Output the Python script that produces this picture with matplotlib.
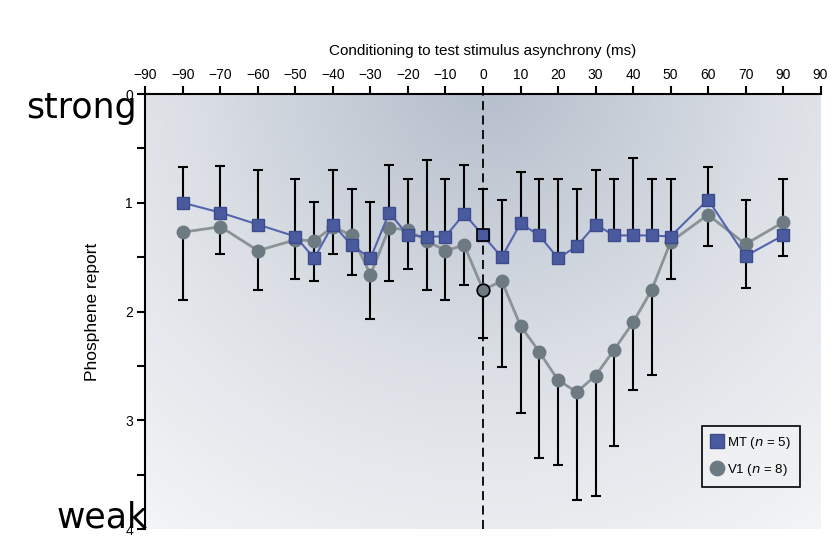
import numpy as np
import matplotlib.pyplot as plt
from matplotlib.colors import LinearSegmentedColormap

narrow = ['Liberation Sans', 'DejaVu Sans']

# asynchrony (ms)
delays = [-80, -70, -60, -50, -45, -40, -35, -30, -25, -20, -15, -10, -5, 0,
          5, 10, 15, 20, 25, 30, 35, 40, 45, 50, 60, 70, 80]

mt_mean = [1.00, 1.09, 1.20, 1.31, 1.51, 1.20, 1.39, 1.51, 1.09, 1.30, 1.31, 1.31, 1.10, 1.30,
           1.50, 1.19, 1.30, 1.51, 1.40, 1.20, 1.30, 1.30, 1.30, 1.31, 0.97, 1.49, 1.30]
mt_err = [0.33, 0.43, 0.50, 0.53, 0.52, 0.50, 0.52, 0.52, 0.44, 0.52, 0.70, 0.53, 0.45, 0.43,
          0.53, 0.47, 0.52, 0.73, 0.53, 0.50, 0.52, 0.71, 0.52, 0.53, 0.30, 0.52, 0.52]

v1_mean = [1.27, 1.22, 1.44, 1.34, 1.35, 1.22, 1.30, 1.66, 1.23, 1.25, 1.35, 1.44, 1.39, 1.80,
           1.72, 2.13, 2.37, 2.63, 2.74, 2.59, 2.35, 2.10, 1.80, 1.36, 1.11, 1.38, 1.18]
v1_err = [0.62, 0.25, 0.36, 0.36, 0.37, 0.25, 0.36, 0.41, 0.49, 0.36, 0.45, 0.45, 0.37, 0.44,
          0.79, 0.80, 0.98, 0.78, 0.99, 1.11, 0.89, 0.62, 0.78, 0.34, 0.29, 0.40, 0.31]

xtick_pos = list(range(-90, 91, 10))
xtick_labels = ['\u221290', '\u221290', '\u221270', '\u221260', '\u221250', '\u221240', '\u221230',
                '\u221220', '\u221210', '0', '10', '20', '30', '40', '50', '60', '70', '90', '90']

fig = plt.figure(figsize=(8.36, 5.36), dpi=100)
ax = fig.add_axes([0.174, 0.013, 0.8075, 0.8115])

# shaded background
u = np.linspace(0, 1, 400)
v = np.linspace(0, 1, 300)
U, V = np.meshgrid(u, v)
d = np.sqrt(((U - 0.5) * 675) ** 2 + ((V + 0.05) * 435) ** 2) / 600
d = np.clip(d, 0, 1)
cmap = LinearSegmentedColormap.from_list('bg', ['#b3bdca', '#dce0e6', '#f6f7f8'])
ax.imshow(d, cmap=cmap, extent=(-90, 90, 4, 0), aspect='auto', zorder=0, vmin=0, vmax=1)

zeros = np.zeros(len(delays))
ax.errorbar(delays, mt_mean, yerr=[mt_err, zeros], fmt='none', ecolor='black',
            elinewidth=1.5, capsize=3.5, capthick=1.5, zorder=2)
ax.errorbar(delays, v1_mean, yerr=[zeros, v1_err], fmt='none', ecolor='black',
            elinewidth=1.5, capsize=3.5, capthick=1.5, zorder=2)

ax.plot(delays, v1_mean, '-o', color='#8b9397', lw=2, ms=9,
        mfc='#6e7a81', mec='#6e7a81', zorder=3, label='V1 ($\\it{n}$ = 8)')
ax.plot(delays, mt_mean, '-s', color='#5565ad', lw=1.5, ms=9,
        mfc='#4a5a9e', mec='#3c4b8c', zorder=4, label='MT ($\\it{n}$ = 5)')

# highlight the 0 ms points
i0 = delays.index(0)
ax.plot(delays[i0], v1_mean[i0], 'o', ms=9, mfc='#6e7a81', mec='black', mew=1.2, zorder=5)
ax.plot(delays[i0], mt_mean[i0], 's', ms=9, mfc='#4a5a9e', mec='black', mew=1.2, zorder=5)

ax.axvline(0, color='black', lw=1.3, ls=(0, (5, 3)), zorder=1)

ax.set_xlim(-90, 90)
ax.set_ylim(4, 0)
ax.xaxis.tick_top()
ax.xaxis.set_label_position('top')
ax.set_xticks(xtick_pos)
ax.set_xticklabels(xtick_labels, family=narrow, fontsize=10)
ax.set_yticks([0, 1, 2, 3, 4])
ax.set_yticklabels(['0', '1', '2', '3', '4'], family=narrow, fontsize=10)
ax.set_yticks(np.arange(0.5, 4, 1), minor=True)
ax.tick_params(axis='both', which='both', direction='out', length=6, width=1.5, pad=3)
ax.spines['right'].set_visible(False)
ax.spines['bottom'].set_visible(False)
ax.spines['left'].set_linewidth(1.5)
ax.spines['top'].set_linewidth(1.5)

ax.set_xlabel('Conditioning to test stimulus asynchrony (ms)', family=narrow, fontsize=11, labelpad=9)
ax.set_ylabel('Phosphene report', family=narrow, fontsize=12.5, labelpad=18)

handles, labels = ax.get_legend_handles_labels()
leg = ax.legend(handles[::-1], labels[::-1], loc='lower right', bbox_to_anchor=(0.97, 0.097),
                borderaxespad=0, fancybox=False, edgecolor='black', framealpha=1,
                facecolor='#eef0f2', prop={'family': narrow, 'size': 9.5},
                handlelength=0.9, handletextpad=0.3, labelspacing=0.8, borderpad=0.7,
                markerscale=1.15)
leg.get_frame().set_linewidth(1.2)

fig.text(137 / 836, 1 - 118 / 536, 'strong', fontsize=25, ha='right', va='baseline')
fig.text(148 / 836, 1 - 527 / 536, 'weak', fontsize=25, ha='right', va='baseline')

fig.savefig('out.png', dpi=100)
